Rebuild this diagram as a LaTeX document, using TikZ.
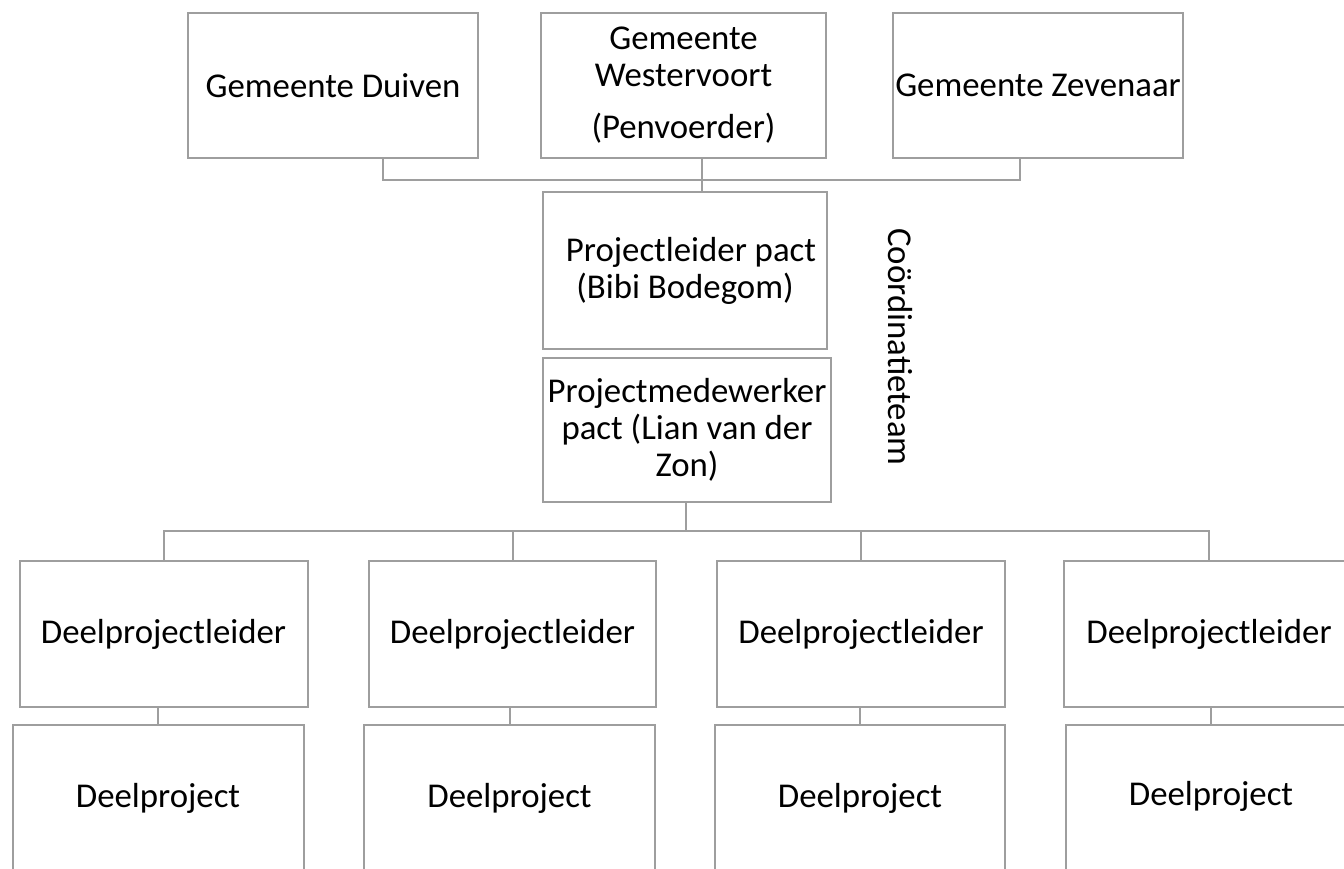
\documentclass[tikz,border=0pt]{standalone}
\usepackage{fontspec}
\setmainfont{Carlito}
\definecolor{boxgray}{RGB}{158,158,158}
\tikzset{
	orgbox/.style={draw=boxgray, line width=1pt, align=center, inner sep=1pt,
		font=\fontsize{17.4}{18.5}\selectfont},
	link/.style={draw=boxgray, line width=1pt}
}
\begin{document}
\begin{tikzpicture}[x=0.5pt, y=-0.5pt]
	\useasboundingbox (0,0) rectangle (1344,868);
	\node[orgbox, minimum width=145pt, minimum height=72.5pt] (duiven) at (333,85.5) {Gemeente Duiven};
	\node[orgbox, minimum width=142.5pt, minimum height=72.5pt] (westervoort) at (683.5,85.5) {Gemeente\\Westervoort\\[7.5pt](Penvoerder)};
	\node[orgbox, minimum width=145pt, minimum height=72.5pt] (zevenaar) at (1038,85.5) {Gemeente Zevenaar};
	\node[orgbox, minimum width=142pt, minimum height=78.5pt] (leider) at (685,270.5) {\hspace*{6pt}Projectleider pact\\(Bibi Bodegom)};
	\node[orgbox, minimum width=144pt, minimum height=72pt] (medewerker) at (687,430) {Projectmedewerker\\pact (Lian van der\\Zon)};
	\node[font=\fontsize{17.4}{18.5}\selectfont, rotate=-90] (team) at (900,347) {Coördinatieteam};
	\node[orgbox, minimum width=144pt, minimum height=73pt] (dpl1) at (163.5,634) {Deelprojectleider};
	\node[orgbox, minimum width=143.5pt, minimum height=73pt] (dpl2) at (512.5,634) {Deelprojectleider};
	\node[orgbox, minimum width=144pt, minimum height=73pt] (dpl3) at (861,634) {Deelprojectleider};
	\node[orgbox, minimum width=145pt, minimum height=73pt] (dpl4) at (1209,634) {Deelprojectleider};
	\node[orgbox, minimum width=145.5pt, minimum height=73pt] (dp1) at (158,798) {Deelproject};
	\node[orgbox, minimum width=145.5pt, minimum height=73pt] (dp2) at (509.5,798) {Deelproject};
	\node[orgbox, minimum width=145pt, minimum height=73pt] (dp3) at (860,798) {Deelproject};
	\node[orgbox, minimum width=145pt, minimum height=73pt] (dp4) at (1211,798) {\raisebox{5pt}{Deelproject}};
	\coordinate (topbus) at (702,180);
	\coordinate (lowbus) at (686,531);
	\draw[link] ([xshift=25pt]duiven.south) |- (topbus) -| ([xshift=-9pt]zevenaar.south);
	\draw[link] ([xshift=9.25pt]westervoort.south) -- (topbus) -- (topbus |- leider.north);
	\draw[link] (medewerker.south -| lowbus) -- (lowbus);
	\draw[link] (dpl1.north) |- (lowbus) -| (dpl4.north);
	\draw[link] (dpl2.north) -- (dpl2.north |- lowbus);
	\draw[link] (dpl3.north) -- (dpl3.north |- lowbus);
	\draw[link] (dp1.north) -- (dp1.north |- dpl1.south);
	\draw[link] (dp2.north) -- (dp2.north |- dpl2.south);
	\draw[link] (dp3.north) -- (dp3.north |- dpl3.south);
	\draw[link] (dp4.north) -- (dp4.north |- dpl4.south);
\end{tikzpicture}
\end{document}
